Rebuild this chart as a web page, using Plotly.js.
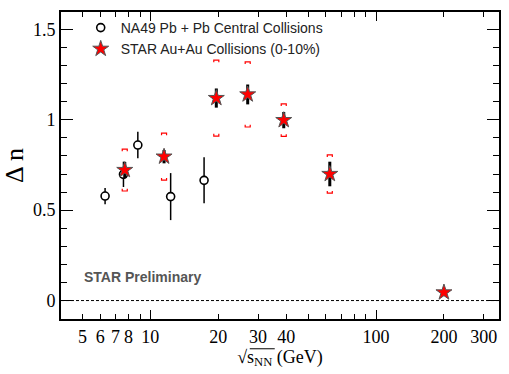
<!DOCTYPE html>
<html>
<head>
<meta charset="utf-8">
<script src="https://cdn.plot.ly/plotly-3.0.1.min.js"></script>
<style>html,body{margin:0;padding:0;background:#fff}#plot{width:509px;height:374px}</style>
</head>
<body>
<div id="plot"></div>
<script>
// NA49 Pb + Pb central collisions
let na49Energy = [6.3, 7.6, 8.8, 12.3, 17.3];
let na49Dn = [0.578, 0.698, 0.86, 0.575, 0.665];
let na49Err = [0.045, 0.07, 0.073, 0.13, 0.127];

// STAR Au+Au (0-10%)
let starEnergy = [7.7, 11.5, 19.6, 27, 39, 62.4, 200];
let starDn = [0.722, 0.796, 1.12, 1.14, 0.998, 0.70, 0.045];
let starStat = [0.045, 0.037, 0.053, 0.055, 0.045, 0.068, 0.012];
let starSys = [0.116, 0.13, 0.21, 0.18, 0.09, 0.106, 0];

// tick labels
let xTickVals = [5, 6, 7, 8, 9, 10, 20, 30, 40, 50, 60, 70, 80, 90, 100, 200, 300];
let xTickText = ['5', '6', '7', '8', '', '10', '20', '30', '40', '', '', '', '', '', '100', '200', '300'];
let yTickVals = [0, 0.5, 1, 1.5];
let yTickText = ['0', '0.5', '1', '1.5'];

let xRange = [0.604, 2.545];
let yRange = [-0.102, 1.596];

// systematic brackets for STAR, built from the arrays above
let bx = [], by = [];
let f = 1.026, leg = 0.012;
for (let i = 0; i < starEnergy.length; i++) {
    if (!starSys[i]) continue;
    let x = starEnergy[i];
    let hi = starDn[i] + starSys[i];
    let lo = starDn[i] - starSys[i];
    bx.push(x / f, x / f, x * f, x * f, null);
    by.push(hi - leg, hi, hi, hi - leg, null);
    bx.push(x / f, x / f, x * f, x * f, null);
    by.push(lo + leg, lo, lo, lo + leg, null);
}

let sysTrace = {
    x: bx, y: by,
    xaxis: 'x2',
    mode: 'lines',
    line: {color: 'red', width: 1.2},
    showlegend: false,
    hoverinfo: 'skip',
    connectgaps: false
};

let na49Trace = {
    x: na49Energy, y: na49Dn,
    name: 'NA49 Pb + Pb Central Collisions',
    mode: 'markers',
    marker: {symbol: 'circle', size: 8, color: 'white', line: {color: 'black', width: 1.6}},
    error_y: {type: 'data', array: na49Err, color: 'black', thickness: 1.5, width: 0}
};

let starTrace = {
    x: starEnergy, y: starDn,
    name: 'STAR Au+Au Collisions (0-10%)',
    mode: 'markers',
    marker: {symbol: 'star', size: 12, color: 'red', line: {color: '#555', width: 1}},
    error_y: {type: 'data', array: starStat, color: 'black', thickness: 3, width: 0}
};

let data = [sysTrace, na49Trace, starTrace];

let layout = {
    width: 509,
    height: 374,
    margin: {l: 61, r: 10, t: 12, b: 55},
    paper_bgcolor: 'white',
    plot_bgcolor: 'white',
    font: {family: 'Liberation Serif', color: 'black'},
    showlegend: true,
    legend: {
        x: 0.045, y: 1.0, xanchor: 'left', yanchor: 'top',
        bgcolor: 'rgba(0,0,0,0)',
        font: {family: 'Liberation Sans', size: 14, color: '#222'},
        tracegroupgap: 0
    },
    xaxis: {
        type: 'log',
        range: xRange,
        tickvals: xTickVals,
        ticktext: xTickText,
        ticks: 'inside', ticklen: 5, tickwidth: 1, tickcolor: 'black',
        showline: true, linewidth: 2, linecolor: 'black', mirror: 'ticks',
        showgrid: false, zeroline: false,
        tickfont: {family: 'Liberation Serif', size: 18, color: 'black'},
        title: {text: '√s<sub>NN</sub> (GeV)', font: {family: 'Liberation Serif', size: 18}, standoff: 4}
    },
    xaxis2: {
        type: 'log',
        range: xRange,
        overlaying: 'x',
        anchor: 'y',
        tickvals: [10, 100],
        ticks: 'inside', ticklen: 9, tickwidth: 1, tickcolor: 'black',
        showticklabels: false, showline: false, mirror: 'ticks',
        showgrid: false, zeroline: false
    },
    yaxis: {
        range: yRange,
        tickvals: yTickVals,
        ticktext: yTickText,
        ticks: 'inside', ticklen: 12, tickwidth: 1, tickcolor: 'black',
        minor: {dtick: 0.1, ticks: 'inside', ticklen: 6, tickcolor: 'black', showgrid: false},
        showline: true, linewidth: 2, linecolor: 'black', mirror: 'ticks',
        showgrid: false, zeroline: false,
        tickfont: {family: 'Liberation Serif', size: 18, color: 'black'},
        title: {text: 'Δ n', font: {family: 'Liberation Serif', size: 26}, standoff: 8}
    },
    shapes: [{
        // dashed reference line at zero
        type: 'line', xref: 'paper', x0: 0, x1: 1, yref: 'y', y0: 0, y1: 0,
        line: {color: 'black', width: 1, dash: '3px,2px'}
    }, {
        // bar of the square-root sign in the x title
        type: 'line', xref: 'paper', x0: 0.431, x1: 0.488, yref: 'paper', y0: -0.097, y1: -0.097,
        line: {color: 'black', width: 1}
    }],
    annotations: [{
        text: '<b>STAR Preliminary</b>',
        xref: 'paper', x: 0.049, xanchor: 'left',
        yref: 'y', y: 0.13, yanchor: 'middle',
        showarrow: false,
        font: {family: 'Liberation Sans', size: 14, color: '#555'}
    }]
};

Plotly.newPlot('plot', data, layout, {displayModeBar: false});
</script>
</body>
</html>
